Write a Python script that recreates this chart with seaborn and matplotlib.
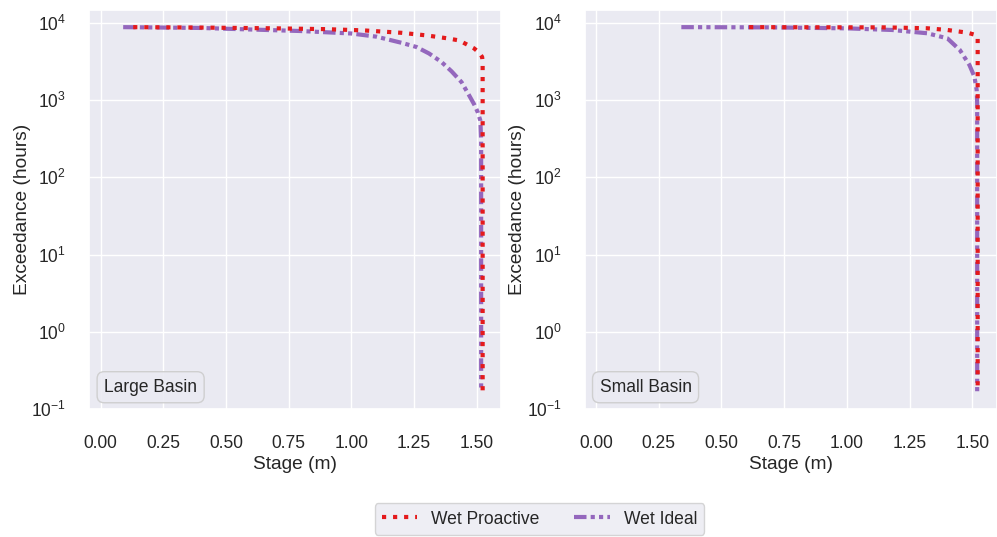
import matplotlib
matplotlib.use("Agg")
import matplotlib.pyplot as plt
import seaborn as sns
import pandas as pd

# ---------------- data ----------------
series_names = ["Wet Proactive", "Wet Ideal"]
panel_titles = ["Large Basin", "Small Basin"]
stage_ticks = [0.00, 0.25, 0.50, 0.75, 1.00, 1.25, 1.50]

large_proactive_stage = [0.13, 0.40, 0.70, 0.90, 1.05, 1.20, 1.30, 1.38, 1.43, 1.46, 1.49, 1.51, 1.522, 1.524, 1.524]
large_proactive_hours = [8760, 8650, 8450, 8250, 7950, 7400, 6850, 6300, 5900, 5250, 4650, 4100, 3600, 3000, 0.17]

large_ideal_stage = [0.09, 0.40, 0.80, 1.00, 1.10, 1.20, 1.26, 1.31, 1.36, 1.40, 1.44, 1.47, 1.49, 1.505, 1.515, 1.518, 1.518]
large_ideal_hours = [8760, 8550, 7800, 7250, 6600, 5500, 4850, 4000, 3100, 2350, 1700, 1150, 880, 690, 540, 300, 0.17]

small_proactive_stage = [0.61, 0.90, 1.15, 1.32, 1.40, 1.48, 1.513, 1.521, 1.521]
small_proactive_hours = [8760, 8720, 8700, 8470, 8050, 7430, 6930, 6500, 0.17]

small_ideal_stage = [0.34, 0.70, 1.00, 1.18, 1.32, 1.40, 1.45, 1.488, 1.508, 1.517, 1.519, 1.519]
small_ideal_hours = [8760, 8700, 8450, 8050, 7300, 6280, 4430, 2840, 2000, 1350, 900, 0.17]

colors = {"Wet Proactive": "#e41a1c", "Wet Ideal": "#9467bd"}

# ---------------- style ----------------
sns.set_theme(style="darkgrid", font_scale=1.15)
plt.rcParams["font.family"] = ["Liberation Sans", "DejaVu Sans"]

fig = plt.figure(figsize=(9.97, 5.37), dpi=100)
ax_l = fig.add_axes([0.0896, 0.2378, 0.4126, 0.7436])
ax_r = fig.add_axes([0.5865, 0.2378, 0.4130, 0.7436])

panels = [
    (ax_l, panel_titles[0], (large_proactive_stage, large_proactive_hours), (large_ideal_stage, large_ideal_hours)),
    (ax_r, panel_titles[1], (small_proactive_stage, small_proactive_hours), (small_ideal_stage, small_ideal_hours)),
]

handles = {}
for ax, title, pro, ideal in panels:
    df_i = pd.DataFrame({"stage": ideal[0], "hours": ideal[1]})
    sns.lineplot(data=df_i, x="stage", y="hours", ax=ax, sort=False, estimator=None,
                 color=colors["Wet Ideal"], lw=3, label="Wet Ideal", zorder=2)
    li = ax.lines[-1]
    li.set_linestyle((0, (3, 1, 1, 1, 1, 1)))
    df_p = pd.DataFrame({"stage": pro[0], "hours": pro[1]})
    sns.lineplot(data=df_p, x="stage", y="hours", ax=ax, sort=False, estimator=None,
                 color=colors["Wet Proactive"], lw=3, label="Wet Proactive", zorder=3)
    lp = ax.lines[-1]
    lp.set_linestyle(":")
    handles["Wet Ideal"] = li
    handles["Wet Proactive"] = lp
    if ax.get_legend() is not None:
        ax.get_legend().remove()

    ax.set_yscale("log")
    ax.set_ylim(0.1, 14600)
    ax.set_xlim(-0.045, 1.596)
    ax.set_xticks(stage_ticks)
    ax.set_xticklabels([f"{t:.2f}" for t in stage_ticks])
    ax.set_xlabel("Stage (m)", labelpad=2.5)
    ax.set_ylabel("Exceedance (hours)", labelpad=0.5)
    ax.minorticks_off()
    ax.tick_params(axis="x", pad=12.8)
    ax.tick_params(axis="y", pad=10.6)
    ax.text(0.036, 0.034, title, transform=ax.transAxes, ha="left", va="bottom",
            fontsize=12.65, color="0.15",
            bbox=dict(boxstyle="round,pad=0.4", fc="#eaeaf2", ec="#cccccc", alpha=0.9))

fig.legend([handles[n] for n in series_names], series_names, loc="center",
           bbox_to_anchor=(0.541, 0.0335), ncol=2, fontsize=12.65)

fig.savefig("out.png", dpi=100)
